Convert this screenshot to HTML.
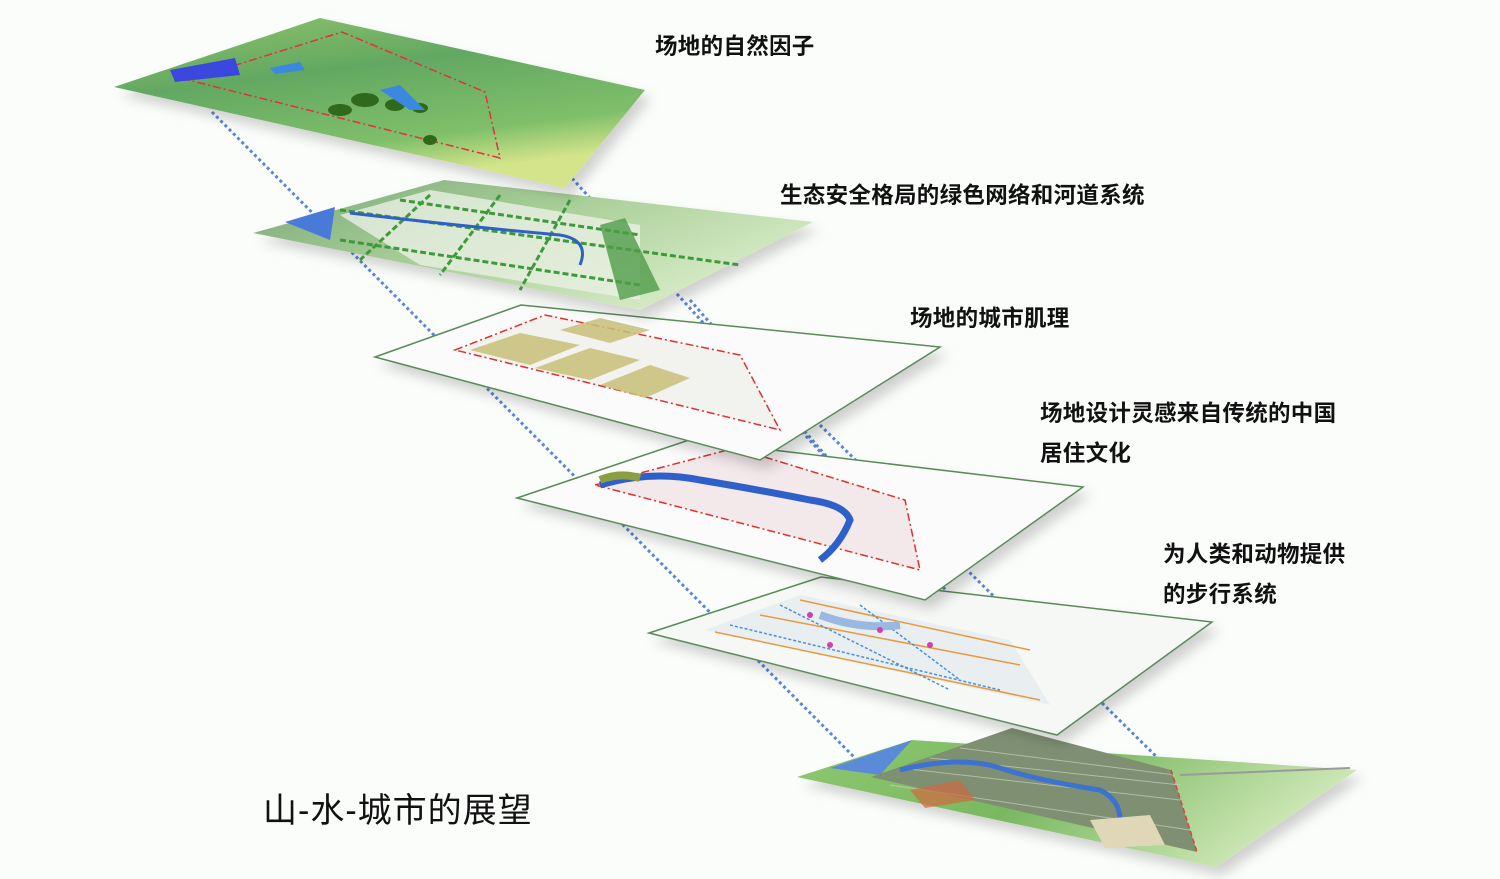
<!DOCTYPE html>
<html><head><meta charset="utf-8"><style>
html,body{margin:0;padding:0;background:#fbfdfb;}
svg{display:block}
text{font-family:"Liberation Sans","Noto Sans CJK SC",sans-serif;fill:#111;}
</style></head><body>
<svg width="1500" height="879" viewBox="0 0 1500 879" xmlns="http://www.w3.org/2000/svg">
<defs>
<linearGradient id="g1" x1="0" y1="0" x2="0.4" y2="1">
<stop offset="0" stop-color="#8fc46a"/><stop offset="0.4" stop-color="#63a862"/><stop offset="0.8" stop-color="#7fbf6a"/><stop offset="1" stop-color="#d4e48a"/></linearGradient>
<linearGradient id="g2" x1="0" y1="0" x2="1" y2="0.6">
<stop offset="0" stop-color="#7aa878"/><stop offset="0.5" stop-color="#a9cf98"/><stop offset="1" stop-color="#d9ecc8"/></linearGradient>
<linearGradient id="g6" x1="0" y1="0" x2="1" y2="0.3">
<stop offset="0" stop-color="#8cc870"/><stop offset="0.5" stop-color="#7ab860"/><stop offset="1" stop-color="#cfe8b8"/></linearGradient>
<filter id="sh" x="-10%" y="-10%" width="130%" height="140%"><feDropShadow dx="6" dy="8" stdDeviation="6" flood-color="#000" flood-opacity="0.18"/></filter>
</defs>

<g stroke="#5a86d6" stroke-width="3" stroke-dasharray="3 3" fill="none">
<line x1="212" y1="112" x2="855" y2="758"/>
<line x1="560" y1="165" x2="1050" y2="705"/>
<line x1="690" y1="300" x2="930" y2="575"/>
<line x1="820" y1="425" x2="1170" y2="770"/>
</g>

<!-- layer 6 -->
<polygon points="797,777 912,740 1357,770 1216,867" fill="url(#g6)" filter="url(#sh)"/>
<polygon points="830,768 912,740 880,775" fill="#5a8ad8"/>
<polygon points="871,777 1012,728 1171,770 1197,852" fill="#7e8f72"/>
<g stroke="#c8d0c0" stroke-width="1" opacity="0.7">
<line x1="900" y1="768" x2="1180" y2="800"/><line x1="930" y1="758" x2="1180" y2="785"/><line x1="960" y1="748" x2="1175" y2="775"/><line x1="890" y1="785" x2="1190" y2="830"/></g>
<path d="M900,770 Q960,755 1000,768 T1100,790 Q1120,800 1120,820" stroke="#3c72d0" stroke-width="5" fill="none"/>
<polygon points="910,790 960,780 975,800 925,808" fill="#d06a40" opacity="0.7"/>
<polygon points="1090,820 1150,815 1165,845 1105,848" fill="#e0d6b8"/>
<line x1="1171" y1="770" x2="1197" y2="852" stroke="#e04040" stroke-width="1.5" stroke-dasharray="5 3"/>
<line x1="1180" y1="775" x2="1350" y2="768" stroke="#9a9a9a" stroke-width="2"/>

<!-- layer 5 -->
<polygon points="649,633 821,577 1212,622 1057,735" fill="#f6f8f6" stroke="#5a8a5a" stroke-width="1.5" filter="url(#sh)"/>
<polygon points="705,630 800,595 1010,640 1050,705" fill="#e8ecf0" opacity="0.9"/>
<g stroke="#e89a40" stroke-width="1.5" fill="none"><line x1="715" y1="632" x2="1040" y2="700"/><line x1="760" y1="615" x2="1020" y2="665"/><line x1="800" y1="600" x2="1030" y2="650"/></g>
<g stroke="#4a90d8" stroke-width="1.5" fill="none" stroke-dasharray="3 2"><line x1="730" y1="625" x2="1000" y2="690"/><line x1="780" y1="605" x2="950" y2="690"/><line x1="860" y1="605" x2="960" y2="680"/></g>
<path d="M820,615 Q860,630 900,625" stroke="#9ab8e0" stroke-width="8" fill="none"/>
<g fill="#d040b0"><circle cx="810" cy="615" r="3"/><circle cx="830" cy="645" r="3"/><circle cx="880" cy="630" r="3"/><circle cx="930" cy="645" r="3"/></g>

<!-- layer 4 -->
<polygon points="517,498 689,440 1083,487 925,600" fill="#fafbfa" stroke="#5a8a5a" stroke-width="1.5" filter="url(#sh)"/>
<polygon points="595,485 735,448 905,500 920,570" fill="#f3e8ea" stroke="#e03030" stroke-width="1.5" stroke-dasharray="8 3 2 3"/>
<path d="M600,485 Q650,470 700,480 Q760,490 810,500 Q845,505 850,520 Q840,545 820,560" stroke="#2f5fc8" stroke-width="7" fill="none"/>
<path d="M600,480 Q620,472 640,478" stroke="#8aa040" stroke-width="8" fill="none"/>

<!-- layer 3 -->
<polygon points="375,357 521,305 940,347 760,460" fill="#fafbfa" stroke="#5a8a5a" stroke-width="1.5" filter="url(#sh)"/>
<polygon points="455,350 545,315 740,355 780,430" fill="#f2f2ee" stroke="#e03030" stroke-width="1.5" stroke-dasharray="8 3 2 3"/>
<g fill="#c8c078" opacity="0.85">
<polygon points="470,350 520,333 580,345 530,365"/><polygon points="535,368 590,348 640,360 590,380"/><polygon points="600,385 650,365 690,378 645,398"/><polygon points="560,330 600,318 650,330 610,343"/></g>

<!-- layer 2 -->
<polygon points="253,233 444,180 813,222 640,310" fill="url(#g2)" filter="url(#sh)"/>
<polygon points="285,222 335,207 330,240" fill="#4a7ad8"/>
<polygon points="340,215 430,190 640,225 640,300 420,265" fill="#eaf0e4" opacity="0.8"/>
<g stroke="#3d9a3a" stroke-width="3" stroke-dasharray="6 3" fill="none">
<line x1="340" y1="210" x2="740" y2="265"/><line x1="340" y1="240" x2="640" y2="285"/><line x1="400" y1="200" x2="640" y2="235"/>
<line x1="430" y1="195" x2="360" y2="260"/><line x1="500" y1="195" x2="440" y2="275"/><line x1="570" y1="200" x2="520" y2="290"/></g>
<path d="M350,213 Q450,225 560,235 Q590,240 580,265" stroke="#2f5fc8" stroke-width="3" fill="none"/>
<polygon points="600,225 625,218 660,290 620,300" fill="#4f9c48" opacity="0.8"/>

<!-- layer 1 -->
<polygon points="114,87 320,18 645,90 565,188" fill="url(#g1)" filter="url(#sh)"/>
<polygon points="188,80 342,32 485,92 500,158" fill="none" stroke="#e03040" stroke-width="1.5" stroke-dasharray="8 3 2 3"/>
<polygon points="170,70 235,58 240,75 175,82" fill="#3a48e0"/>
<g fill="#2f6a1c"><ellipse cx="340" cy="110" rx="12" ry="6"/><ellipse cx="365" cy="100" rx="14" ry="7"/><ellipse cx="395" cy="105" rx="10" ry="6"/><ellipse cx="420" cy="108" rx="8" ry="5"/><ellipse cx="430" cy="140" rx="7" ry="5"/></g>
<polygon points="380,90 400,85 425,110 410,110" fill="#3a88e0"/>
<polygon points="270,68 300,62 305,70 275,74" fill="#3a88e0"/>

<g font-size="22.5" font-weight="bold" style="letter-spacing:0.3px">
<text x="655" y="54">场地的自然因子</text>
<text x="780" y="203">生态安全格局的绿色网络和河道系统</text>
<text x="910" y="326">场地的城市肌理</text>
<text x="1040" y="421">场地设计灵感来自传统的中国</text>
<text x="1040" y="461">居住文化</text>
<text x="1163" y="562">为人类和动物提供</text>
<text x="1163" y="602">的步行系统</text>
</g>
<text x="263" y="822" font-size="34" style="letter-spacing:1px">山-水-城市的展望</text>
</svg>
</body></html>
